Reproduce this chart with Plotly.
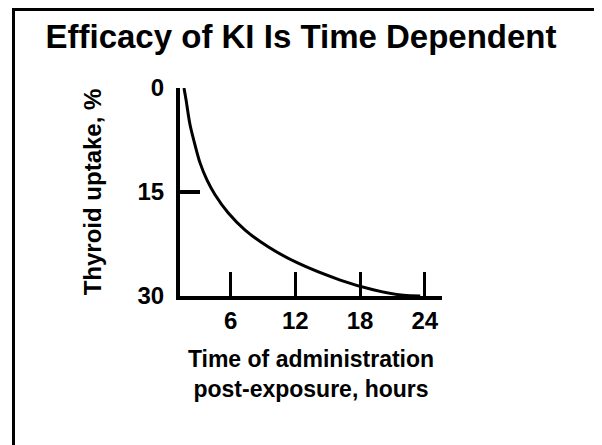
import plotly.graph_objects as go

# Data
time_hours = [1.67, 1.86, 2.23, 2.69, 3.16, 3.81, 4.55, 5.76, 7.34, 9.47, 12.16, 16.16, 19.22, 22.01, 23.58]
uptake_pct = [0.0, 1.7, 5.3, 8.2, 10.8, 13.3, 15.4, 18.0, 20.5, 22.9, 25.2, 27.7, 29.1, 29.9, 30.0]

x_tick_vals = [6, 12, 18, 24]
x_tick_text = ["6", "12", "18", "24"]
y_tick_vals = [0, 15, 30]
y_tick_text = ["0", "15", "30"]

title_text = "Efficacy of KI Is Time Dependent"
x_title = "Time of administration<br>post-exposure, hours"
y_title = "Thyroid uptake, %"

FONT = "Liberation Sans, Arial, sans-serif"

fig = go.Figure()
fig.add_trace(go.Scatter(
    x=time_hours, y=uptake_pct, mode="lines",
    line=dict(color="black", width=3, shape="spline", smoothing=0.9),
    hoverinfo="skip", showlegend=False,
))

W, H = 602, 445
L, T = 172, 80
pw, ph = 262, 208
R, B = W - L - pw, H - T - ph

def px_to_paper_x(px):
    return (px - L) / pw

def px_to_paper_y(py):
    return (T + ph - py) / ph

fig.update_layout(
    width=W, height=H, autosize=False,
    margin=dict(l=L, r=R, t=T, b=B, pad=0),
    paper_bgcolor="white", plot_bgcolor="white",
    font=dict(family=FONT, color="black", size=24),
    title=dict(
        text="<b>" + title_text + "</b>",
        x=0.5 - 8 / W, xanchor="center", xref="container",
        y=1 - 28 / H, yanchor="middle", yref="container",
        font=dict(family=FONT, size=33, color="black"),
    ),
    xaxis=dict(
        range=[1.3, 25.6],
        showline=True, linewidth=4, linecolor="black",
        showgrid=False, zeroline=False,
        ticks="inside", ticklen=24, tickwidth=3, tickcolor="black",
        tickmode="array", tickvals=x_tick_vals, ticktext=["<b>%s</b>" % t for t in x_tick_text],
        tickfont=dict(family=FONT, size=24, color="black"),
        ticklabelstandoff=0,
        title=dict(text="<b>" + x_title + "</b>", font=dict(family=FONT, size=23, color="black"), standoff=19),
    ),
    yaxis=dict(
        range=[30, 0],
        showline=True, linewidth=4, linecolor="black",
        showgrid=False, zeroline=False,
        ticks="inside", ticklen=20, tickwidth=4, tickcolor="black",
        tickmode="array", tickvals=y_tick_vals, ticktext=["<b>%s</b>" % t for t in y_tick_text],
        tickfont=dict(family=FONT, size=24, color="black"),
        ticklabelstandoff=7,
        title=dict(text="<b>" + y_title + "</b>", font=dict(family=FONT, size=24, color="black"), standoff=30),
    ),
    shapes=[dict(
        type="rect", xref="paper", yref="paper",
        x0=px_to_paper_x(5.5), x1=px_to_paper_x(590.5),
        y0=px_to_paper_y(460), y1=px_to_paper_y(1.5),
        line=dict(color="black", width=3), fillcolor="rgba(0,0,0,0)", layer="below",
    )],
)

fig.write_html("out.html")
